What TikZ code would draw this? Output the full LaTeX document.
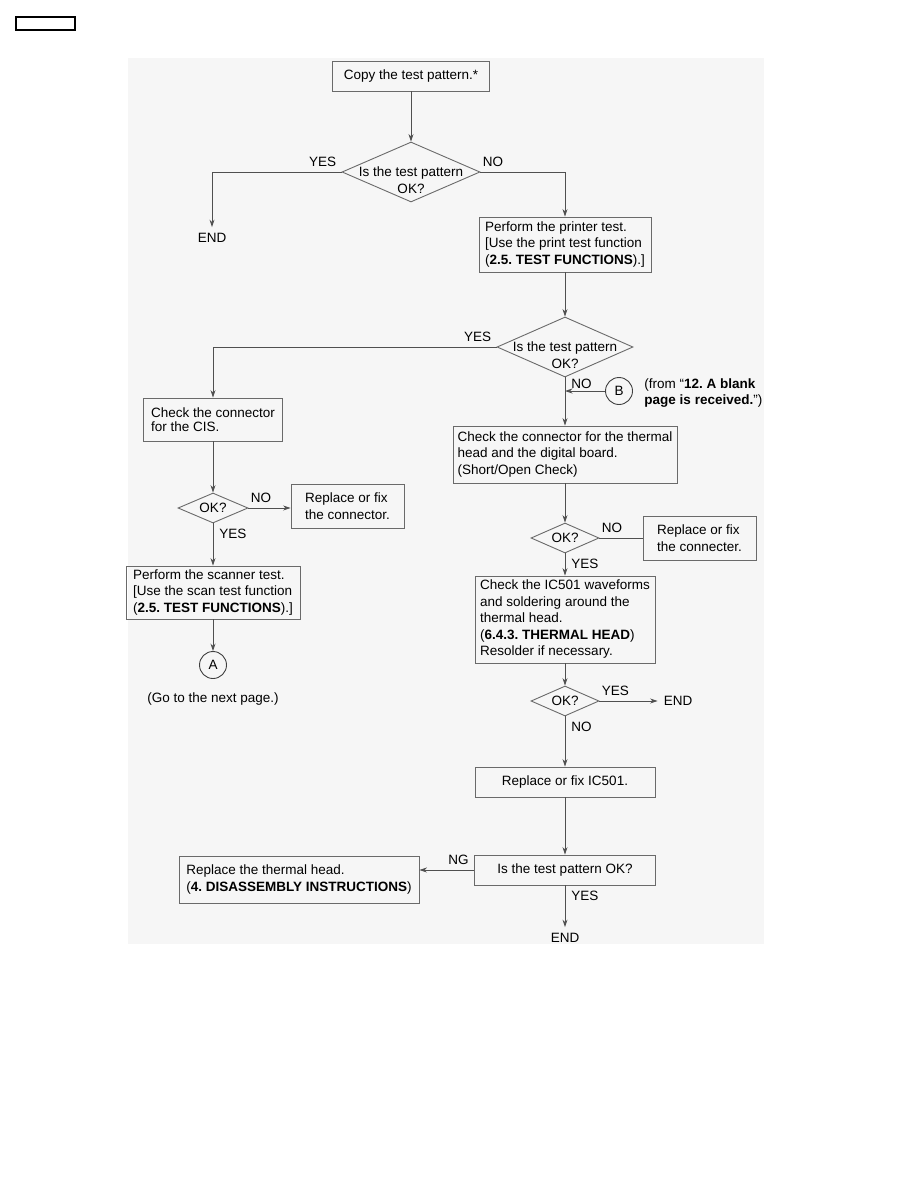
\documentclass[tikz,border=0pt]{standalone}
\usepackage{fontspec}
\setmainfont{Liberation Sans}
\usepackage{tikz}
\usetikzlibrary{positioning,arrows.meta,calc,shapes.geometric}
\usepackage{xcolor}
\definecolor{flowline}{HTML}{505050}
\definecolor{flowedge}{HTML}{6A6A6A}
\definecolor{flowbg}{HTML}{F6F6F6}
\frenchspacing

\begin{document}
\begin{tikzpicture}[x=1pt,y=-1pt,>={Stealth[length=7.5pt,width=5pt]},
    font=\fontsize{13.5}{16.5}\selectfont,
    proc/.style={draw=flowedge,line width=0.9pt,align=left,inner sep=2pt},
    decide/.style={draw=flowedge,line width=0.9pt,diamond,aspect=2.3,inner sep=0pt},
    conn/.style={draw=black!75,line width=0.9pt,circle,minimum size=27pt,inner sep=0pt},
    term/.style={inner sep=6pt},
    flow/.style={draw=flowline,line width=0.9pt},
    lblur/.style={above right,inner sep=2pt,yshift=3pt},
    lblul/.style={above left,inner sep=2pt,xshift=-3pt,yshift=3pt},
    lbldr/.style={below right,inner sep=2pt,xshift=4pt,yshift=-3pt}]
\useasboundingbox (0,0) rectangle (918,1188);
\fill[white] (0,0) rectangle (918,1188);
\fill[flowbg] (128,58) rectangle (764,944);
\draw[line width=1.1pt] (16,17) rectangle (75,30);

% main column
\node[proc,minimum width=157pt,minimum height=30pt] (copy) at (411,76) {Copy the test pattern.*};
\node[decide,minimum width=138pt,minimum height=60pt] (q1) at (411,172) {};
\node[align=center,inner sep=0pt] (q1txt) at ([yshift=-8pt]q1.center) {Is the test pattern\\OK?};
\node[term] (end1) at (212,238) {END};
\node[proc,minimum width=172pt,minimum height=55pt] (print) at (565,244.5) {Perform the printer test.\\{[}Use the print test function\\(\textbf{2.5. TEST FUNCTIONS}).]};
\node[decide,minimum width=136pt,minimum height=60pt] (q2) at (565,347) {};
\node[align=center,inner sep=0pt] (q2txt) at ([yshift=-8pt]q2.center) {Is the test pattern\\OK?};

% scanner side
\node[proc,minimum width=139pt,minimum height=43pt] (cis) at (213,419.5) {Check the connector\\[-2.5pt]for the CIS.};
\node[decide,minimum width=70pt,minimum height=30pt] (q3) at (213,508) {OK?};
\node[proc,minimum width=113pt,minimum height=44pt] (fixcon1) at (347.5,506) {Replace or fix\\the connector.};
\node[proc,minimum width=174pt,minimum height=53pt] (scan) at (213,592.5) {Perform the scanner test.\\{[}Use the scan test function\\(\textbf{2.5. TEST FUNCTIONS}).]};
\node[conn] (acirc) at (213,665) {A};
\node[below=10pt of acirc] (gonext) {(Go to the next page.)};

% printer side
\node[conn] (bcirc) at (619,391) {B};
\node[right=8pt of bcirc,align=left,anchor=west,yshift=-2pt] (bnote) {(from ``\textbf{12. A blank}\\\textbf{page is received.}'')};
\node[proc,minimum width=224pt,minimum height=57pt] (thermcon) at (565,454.5) {Check the connector for the thermal\\head and the digital board.\\(Short/Open Check)};
\node[decide,minimum width=68pt,minimum height=30pt] (q4) at (565,538) {OK?};
\node[proc,minimum width=113pt,minimum height=44pt] (fixcon2) at (699.5,538) {Replace or fix\\the connecter.};
\node[proc,minimum width=180pt,minimum height=87pt] (icwave) at (565,619.5) {Check the IC501 waveforms\\and soldering around the\\thermal head.\\(\textbf{6.4.3. THERMAL HEAD})\\Resolder if necessary.};
\node[decide,minimum width=68pt,minimum height=30pt] (q5) at (565,701) {OK?};
\node[term] (end2) at (678,701) {END};
\node[proc,minimum width=180pt,minimum height=30pt] (fixic) at (565,782) {Replace or fix IC501.};
\node[proc,minimum width=181pt,minimum height=30pt] (testok) at (565,870) {Is the test pattern OK?};
\node[proc,minimum width=240pt,minimum height=47pt] (head) at (299,879.5) {Replace the thermal head.\\(\textbf{4. DISASSEMBLY INSTRUCTIONS})};
\node[term] (end3) at (565,938) {END};

% connectors
\draw[flow,->] (copy) -- (q1);
\draw[flow,->] (q1.west) -| (end1) node[lblul,pos=0] (yes1) {YES};
\draw[flow,->] (q1.east) -| (print) node[lblur,pos=0] (no1) {NO};
\draw[flow,->] (print) -- (q2);
\draw[flow,->] (q2.west) -| (cis) node[lblul,pos=0] (yes2) {YES};
\draw[flow,->] (q2) -- (thermcon) node[lbldr,pos=0,yshift=4pt] (no2) {NO};
\draw[flow,->] (bcirc) -- (bcirc -| thermcon);
\draw[flow,->] (cis) -- (q3);
\draw[flow,->] (q3.east) -- (q3.east -| fixcon1.west) node[lblur,pos=0] (no3) {NO};
\draw[flow,->] (q3) -- (scan) node[lbldr,pos=0] (yes3) {YES};
\draw[flow,->] (scan) -- (acirc);
\draw[flow,->] (thermcon) -- (q4);
\draw[flow] (q4.east) -- (q4.east -| fixcon2.west) node[lblur,pos=0] (no4) {NO};
\draw[flow,->] (q4) -- (icwave) node[lbldr,pos=0] (yes4) {YES};
\draw[flow,->] (icwave) -- (q5);
\draw[flow,->] (q5.east) -- (end2) node[lblur,pos=0] (yes5) {YES};
\draw[flow,->] (q5) -- (fixic) node[lbldr,pos=0] (no5) {NO};
\draw[flow,->] (fixic) -- (testok);
\draw[flow,->] (testok.west) -- (testok.west -| head.east) node[lblul,pos=0] (ng) {NG};
\draw[flow,->] (testok) -- (end3) node[lbldr,pos=0] (yes6) {YES};
\end{tikzpicture}
\end{document}
